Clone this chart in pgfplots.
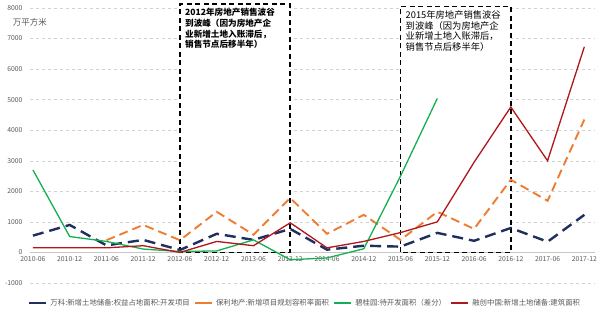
\documentclass[border=0pt]{standalone}
\usepackage{pgfplots}
\pgfplotsset{compat=1.18}
\usepackage{fontspec}
\setmainfont{Noto Sans CJK SC}
\definecolor{vk}{HTML}{1F2F5E}
\definecolor{bl}{HTML}{ED7D31}
\definecolor{bg}{HTML}{12B050}
\definecolor{rc}{HTML}{B0161B}
\definecolor{tg}{HTML}{595959}
\begin{document}
\begin{tikzpicture}
\begin{axis}[
  scale only axis,
  width=565pt, height=275pt,
  xmin=-0.08, xmax=15.29,
  ymin=-1000, ymax=8000,
  clip=false,
  axis x line=middle,
  axis y line=left,
  axis line style={-},
  x axis line style={draw=gray!45, line width=0.6pt},
  y axis line style={draw=none},
  major tick length=0pt,
  xtick={0,...,15},
  xticklabels={2010-06,2010-12,2011-06,2011-12,2012-06,2012-12,2013-06,2013-12,2014-06,2014-12,2015-06,2015-12,2016-06,2016-12,2017-06,2017-12},
  ytick={-1000,0,1000,2000,3000,4000,5000,6000,7000,8000},
  ymajorgrids,
  grid style={gray!35, dashed, line width=0.5pt},
  /pgf/number format/assume math mode=true,
  /pgf/number format/1000 sep={},
  tick label style={font=\fontsize{6.8}{8}\selectfont, text=tg},
  xticklabel style={yshift=-1pt},
  yticklabel style={xshift=-4pt},
  legend columns=4,
  legend style={draw=none, fill=none, at={(0.487,-0.043)}, anchor=north,
    font=\fontsize{7.4}{8.5}\selectfont, text=tg,
    /tikz/every odd column/.append style={column sep=1pt},
    /tikz/every even column/.append style={column sep=2pt}},
  legend image code/.code={\draw[#1, solid, line width=2.2pt] (0pt,0pt) -- (17pt,0pt);},
]
% annotation boxes (white filled, hide grid)
\draw[draw=black, fill=white, line width=1.7pt, dash pattern=on 5pt off 3.5pt] (axis cs:4,0) rectangle (axis cs:7,8120);
\draw[draw=black, fill=white, line width=1.7pt, dash pattern=on 5pt off 3.5pt] (axis cs:10,0) rectangle (axis cs:13,8050);
\node[anchor=north west, align=left, inner xsep=5pt, inner ysep=4pt, text=black, font=\fontsize{8.6}{10.6}\selectfont\bfseries] at (axis cs:4,8120) {2012年房地产销售波谷\\到波峰（因为房地产企\\业新增土地入账滞后，\\销售节点后移半年）};
\node[anchor=north west, align=left, inner xsep=5pt, inner ysep=4pt, text=black, font=\fontsize{9.3}{10.6}\selectfont] at (axis cs:10,8050) {2015年房地产销售波谷\\到波峰（因为房地产企\\业新增土地入账滞后，\\销售节点后移半年）};
\node[font=\fontsize{8.5}{10}\selectfont, text=tg] at (rel axis cs:0,0.947) {万平方米};

\addplot[vk, line width=2.4pt, dash pattern=on 11pt off 6pt] coordinates {
(0,550)(1,900)(2,230)(3,410)(4,80)(5,610)(6,410)(7,770)(8,90)(9,220)(10,190)(11,640)(12,380)(13,800)(14,350)(15,1230)};
\addlegendentry{万科:新增土地储备:权益占地面积:开发项目}
\addplot[bl, line width=1.9pt, dash pattern=on 9pt off 5pt] coordinates {
(2,400)(3,900)(4,400)(5,1330)(6,580)(7,1780)(8,610)(9,1230)(10,410)(11,1330)(12,770)(13,2380)(14,1690)(15,4350)};
\addlegendentry{保利地产:新增项目规划容积率面积}
\addplot[bg, line width=1.3pt] coordinates {
(0,2700)(1,520)(2,360)(3,110)(4,30)(5,50)(6,410)(7,-240)(8,-180)(9,120)(10,2500)(11,5040)};
\addlegendentry{碧桂园:待开发面积（差分）}
\addplot[rc, line width=1.3pt] coordinates {
(0,150)(1,150)(2,150)(3,220)(4,0)(5,360)(6,220)(7,970)(8,150)(9,360)(10,650)(11,1000)(12,2950)(13,4760)(14,3000)(15,6730)};
\addlegendentry{融创中国:新增土地储备:建筑面积}
\end{axis}
\pgfresetboundingbox
\path[use as bounding box] ([xshift=-30pt,yshift=-27pt]current axis.south west) rectangle ([xshift=5pt,yshift=8pt]current axis.north east);
\end{tikzpicture}
\end{document}
